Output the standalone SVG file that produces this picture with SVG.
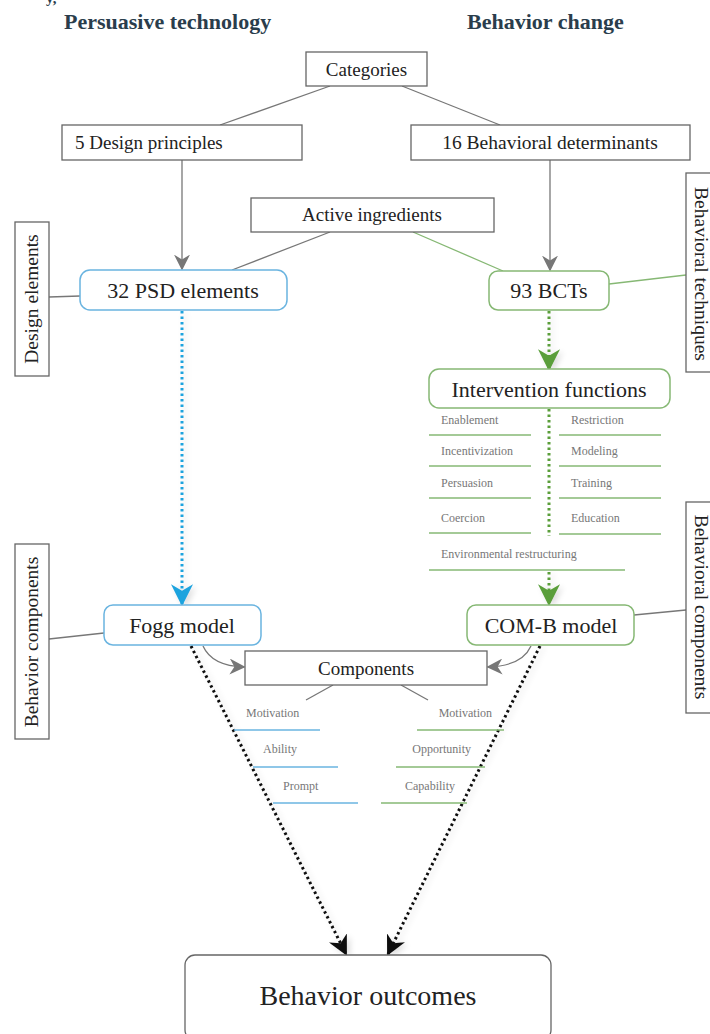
<svg xmlns="http://www.w3.org/2000/svg" width="710" height="1034" viewBox="0 0 710 1034">
<style>
text{font-family:"Liberation Serif","Times New Roman",serif;fill:#222}
.title{font-weight:bold;font-size:22px;fill:#2a3d4c}
.box{fill:#fff;stroke:#666;stroke-width:1.3}
.blue{fill:#fff;stroke:#6ab4e0;stroke-width:1.5}
.green{fill:#fff;stroke:#86b874;stroke-width:1.5}
.gl{stroke:#777;stroke-width:1.3;fill:none}
.grl{stroke:#86b874;stroke-width:1.3;fill:none}
.item{font-size:12px;fill:#777}
.iline{stroke:#86b874;stroke-width:1.5}
.bline{stroke:#6ab4e0;stroke-width:1.5}
.side{font-size:19.5px}
</style>
<defs>
<marker id="agr" viewBox="0 0 10 10" refX="9" refY="5" markerWidth="16" markerHeight="16" orient="auto" markerUnits="userSpaceOnUse"><path d="M0,0 L10,5 L0,10 L3,5 z" fill="#777"/></marker>
<marker id="ab" viewBox="0 0 10 10" refX="9" refY="5" markerWidth="22" markerHeight="22" orient="auto" markerUnits="userSpaceOnUse"><path d="M0,0 L10,5 L0,10 L3,5 z" fill="#1fa3de"/></marker>
<marker id="agn" viewBox="0 0 10 10" refX="9" refY="5" markerWidth="22" markerHeight="22" orient="auto" markerUnits="userSpaceOnUse"><path d="M0,0 L10,5 L0,10 L3,5 z" fill="#5a9e3a"/></marker>
<marker id="ak" viewBox="0 0 10 10" refX="9" refY="5" markerWidth="20" markerHeight="20" orient="auto" markerUnits="userSpaceOnUse"><path d="M0,0 L10,5 L0,10 L3,5 z" fill="#111"/></marker>
<filter id="sh" filterUnits="userSpaceOnUse" x="0" y="0" width="710" height="1034"><feGaussianBlur in="SourceAlpha" stdDeviation="3"/><feOffset dx="3" dy="2"/><feComponentTransfer><feFuncA type="linear" slope="0.15"/></feComponentTransfer><feMerge><feMergeNode/><feMergeNode in="SourceGraphic"/></feMerge></filter>
</defs>
<rect width="710" height="1034" fill="#fff"/>
<text x="46" y="3" style="font-weight:bold;font-size:15px;fill:#2a3d4c">y,</text>
<text class="title" x="64" y="29">Persuasive technology</text>
<text class="title" x="467" y="29">Behavior change</text>

<g id="connectors">
<line class="gl" x1="330" y1="86" x2="220" y2="125"/>
<line class="gl" x1="402" y1="86" x2="500" y2="125"/>
<line class="gl" x1="182" y1="160" x2="182" y2="269" marker-end="url(#agr)"/>
<line class="gl" x1="550" y1="160" x2="550" y2="270" marker-end="url(#agr)"/>
<line class="gl" x1="330" y1="232" x2="232" y2="270"/>
<line class="grl" x1="413" y1="232" x2="503" y2="271"/>
<line class="gl" x1="49" y1="297" x2="80" y2="296"/>
<line class="grl" x1="609" y1="284" x2="686" y2="275"/>
<line x1="182" y1="311" x2="182" y2="604" stroke="#1fa3de" stroke-width="3" stroke-dasharray="2.5 3" marker-end="url(#ab)" filter="url(#sh)"/>
<line x1="549" y1="311" x2="549" y2="369" stroke="#5a9e3a" stroke-width="3" stroke-dasharray="2.5 3" marker-end="url(#agn)" filter="url(#sh)"/>
<line x1="549" y1="409" x2="549" y2="536" stroke="#5a9e3a" stroke-width="3" stroke-dasharray="2.5 3"/>
<line x1="549" y1="572" x2="549" y2="604" stroke="#5a9e3a" stroke-width="3" stroke-dasharray="2.5 3" marker-end="url(#agn)" filter="url(#sh)"/>
<line class="gl" x1="49" y1="639" x2="104" y2="633"/>
<line class="gl" x1="634" y1="615" x2="686" y2="610"/>
<path class="gl" d="M203,646 Q212,666 244,667" stroke="#aaa" marker-end="url(#agr)"/>
<path class="gl" d="M531,646 Q522,666 488,667" stroke="#aaa" marker-end="url(#agr)"/>
<line class="gl" x1="333" y1="685" x2="306" y2="700"/>
<line class="gl" x1="401" y1="685" x2="428" y2="700"/>
<line x1="191" y1="646" x2="346" y2="954" stroke="#111" stroke-width="3" stroke-dasharray="2.5 3" marker-end="url(#ak)" filter="url(#sh)"/>
<line x1="540" y1="646" x2="388" y2="954" stroke="#111" stroke-width="3" stroke-dasharray="2.5 3" marker-end="url(#ak)" filter="url(#sh)"/>
</g>

<g id="categories"><rect class="box" x="306" y="52" width="121" height="34"/><text x="366.5" y="76" text-anchor="middle" font-size="19">Categories</text></g>
<g id="design-principles"><rect class="box" x="62" y="125" width="240" height="35"/><text x="75" y="149" font-size="19">5 Design principles</text></g>
<g id="behavioral-determinants"><rect class="box" x="411" y="125" width="279" height="35"/><text x="550" y="149" text-anchor="middle" font-size="19.5">16 Behavioral determinants</text></g>
<g id="active-ingredients"><rect class="box" x="251" y="198" width="243" height="34"/><text x="372" y="221" text-anchor="middle" font-size="19">Active ingredients</text></g>
<g id="psd-elements"><rect class="blue" x="80" y="270" width="207" height="40" rx="10"/><text x="183" y="298" text-anchor="middle" font-size="22">32 PSD elements</text></g>
<g id="bcts"><rect class="green" x="489" y="271" width="120" height="39" rx="9"/><text x="549" y="298" text-anchor="middle" font-size="22">93 BCTs</text></g>
<g id="design-elements"><rect class="box" x="15" y="222" width="34" height="154"/><text class="side" transform="translate(32 299) rotate(-90)" text-anchor="middle" dy="6">Design elements</text></g>
<g id="behavioral-techniques"><rect class="box" x="686" y="173" width="30" height="199"/><text class="side" transform="translate(701 274) rotate(90)" text-anchor="middle" dy="6">Behavioral techniques</text></g>

<g id="intervention-functions"><rect class="green" x="429" y="369" width="241" height="39" rx="10"/><text x="549" y="397" text-anchor="middle" font-size="22">Intervention functions</text>
<text class="item" x="441" y="424">Enablement</text><line class="iline" x1="429" y1="435" x2="531" y2="435"/>
<text class="item" x="441" y="455">Incentivization</text><line class="iline" x1="429" y1="466" x2="531" y2="466"/>
<text class="item" x="441" y="487">Persuasion</text><line class="iline" x1="429" y1="498" x2="531" y2="498"/>
<text class="item" x="441" y="522">Coercion</text><line class="iline" x1="429" y1="533" x2="531" y2="533"/>
<text class="item" x="571" y="424">Restriction</text><line class="iline" x1="559" y1="435" x2="661" y2="435"/>
<text class="item" x="571" y="455">Modeling</text><line class="iline" x1="559" y1="466" x2="661" y2="466"/>
<text class="item" x="571" y="487">Training</text><line class="iline" x1="559" y1="498" x2="661" y2="498"/>
<text class="item" x="571" y="522">Education</text><line class="iline" x1="559" y1="534" x2="661" y2="534"/>
<text class="item" x="441" y="558">Environmental restructuring</text><line class="iline" x1="429" y1="570" x2="625" y2="570"/>
</g>

<g id="fogg-model"><rect class="blue" x="104" y="605" width="157" height="40" rx="9"/><text x="182" y="633" text-anchor="middle" font-size="22">Fogg model</text></g>
<g id="com-b-model"><rect class="green" x="467" y="605" width="167" height="40" rx="9"/><text x="551" y="633" text-anchor="middle" font-size="22">COM-B model</text></g>
<g id="behavior-components"><rect class="box" x="15" y="544" width="34" height="195"/><text class="side" transform="translate(32 642) rotate(-90)" text-anchor="middle" dy="6">Behavior components</text></g>
<g id="behavioral-components"><rect class="box" x="686" y="502" width="30" height="211"/><text class="side" transform="translate(701 607) rotate(90)" text-anchor="middle" dy="6">Behavioral components</text></g>

<g id="components"><rect class="box" x="245" y="651" width="242" height="34"/><text x="366" y="675" text-anchor="middle" font-size="19">Components</text>
<text class="item" x="246" y="717">Motivation</text><line class="bline" x1="234" y1="730" x2="320" y2="730"/>
<text class="item" x="263" y="753">Ability</text><line class="bline" x1="253" y1="767" x2="338" y2="767"/>
<text class="item" x="283" y="790">Prompt</text><line class="bline" x1="273" y1="803" x2="358" y2="803"/>
<text class="item" x="492" y="717" text-anchor="end">Motivation</text><line class="iline" x1="417" y1="730" x2="504" y2="730"/>
<text class="item" x="471" y="753" text-anchor="end">Opportunity</text><line class="iline" x1="396" y1="767" x2="485" y2="767"/>
<text class="item" x="455" y="790" text-anchor="end">Capability</text><line class="iline" x1="381" y1="803" x2="467" y2="803"/>
</g>

<g id="behavior-outcomes"><rect x="185" y="955" width="366" height="85" rx="10" fill="#fff" stroke="#666" stroke-width="1.3"/><text x="368" y="1005" text-anchor="middle" font-size="28">Behavior outcomes</text></g>
</svg>
